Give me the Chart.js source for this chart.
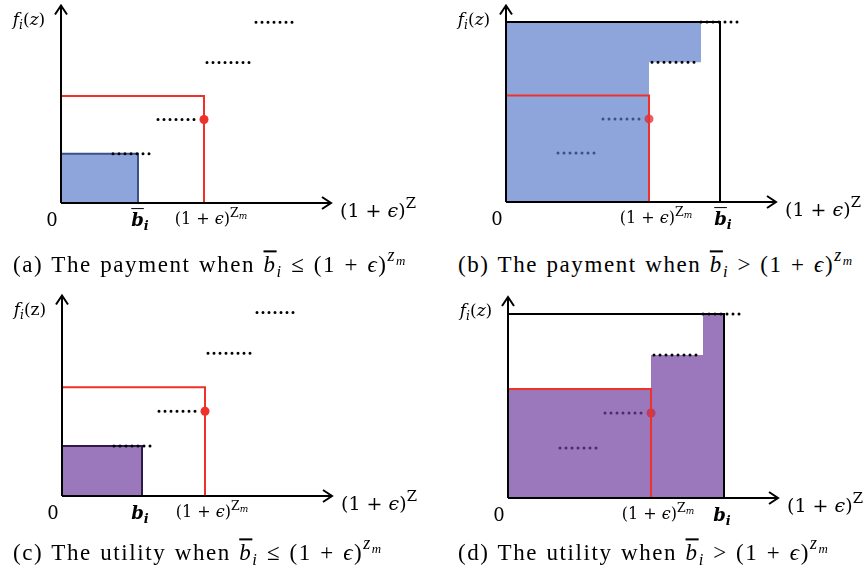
<!DOCTYPE html>
<html>
<head>
<meta charset="utf-8">
<script src="https://cdn.jsdelivr.net/npm/chart.js@4.4.1/dist/chart.umd.min.js"></script>
<style>
  html, body { margin: 0; padding: 0; background: #fff; }
  body { width: 866px; height: 582px; position: relative; overflow: hidden; }
  .panel { position: absolute; width: 433px; height: 240px; }
  .panel canvas { position: absolute; left: 0; top: 0; }
  .lbl { position: absolute; transform: translate(-50%, -50%); white-space: nowrap;
         font-family: "DejaVu Serif", "Liberation Serif", "Noto Serif", "Times New Roman", "FreeSerif", serif;
         font-size: 17px; line-height: 1; color: #000; }
  .cap { position: absolute; transform: translateY(-50%); white-space: nowrap;
         font-family: "Liberation Serif", "DejaVu Serif", "Noto Serif", "Times New Roman", "FreeSerif", serif;
         font-size: 23px; letter-spacing: 1.6px; word-spacing: 1px; line-height: 1; color: #000; }
  .sb { font-size: 72%; vertical-align: -0.3em; }
  .sp { font-size: 78%; vertical-align: 0.6em; }
  .bar { text-decoration: overline; }
</style>
</head>
<body>
<div class="panel" id="pa" style="left:0;top:0"><canvas id="ca" width="433" height="240"></canvas></div>
<div class="panel" id="pb" style="left:433px;top:0"><canvas id="cb" width="433" height="240"></canvas></div>
<div class="panel" id="pc" style="left:0;top:290px"><canvas id="cc" width="433" height="240"></canvas></div>
<div class="panel" id="pd" style="left:433px;top:290px"><canvas id="cd" width="433" height="240"></canvas></div>

<div class="cap" style="left:13px;top:264px">(a) The payment when <i class="bar">b</i><span class="sb"><i>i</i></span> ≤ (1 + <i>ϵ</i>)<span class="sp"><i>z</i><span class="sb"><i>m</i></span></span></div>
<div class="cap" style="left:458px;top:264px">(b) The payment when <i class="bar">b</i><span class="sb"><i>i</i></span> &gt; (1 + <i>ϵ</i>)<span class="sp"><i>z</i><span class="sb"><i>m</i></span></span></div>
<div class="cap" style="left:13px;top:552px">(c) The utility when <i class="bar">b</i><span class="sb"><i>i</i></span> ≤ (1 + <i>ϵ</i>)<span class="sp"><i>z</i><span class="sb"><i>m</i></span></span></div>
<div class="cap" style="left:458px;top:552px">(d) The utility when <i class="bar">b</i><span class="sb"><i>i</i></span> &gt; (1 + <i>ϵ</i>)<span class="sp"><i>z</i><span class="sb"><i>m</i></span></span></div>

<script>
// abstract units: x runs 0..270 along (1+e)^z, y runs 0..202 along f_i(z)
var xMax = 270, yMax = 202;

// the step function f_i(z), drawn as dotted runs
var stepStart = [52, 97, 146, 195];
var stepEnd   = [90, 138, 191, 233];
var stepLevel = [50, 85, 143, 184];

var zm = 143;        // (1+e)^zm
var zmLevel = 109;   // height of the red box
var zmPoint = 85;    // f_i at (1+e)^zm
var topLevel = 184;  // height of the black box
var bidLow = [77, 80];     // b_i in (a) and (c)
var bidHigh = [214, 216];  // b_i in (b) and (d)

var RED = '#EF3229';
var BLUE = '#8EA5DB', BLUE_EDGE = '#3C5088', BLUE_DOT = '#3D4F86';
var PURPLE = '#9B78BC', PURPLE_EDGE = '#2E1B47', PURPLE_DOT = '#4B2C6B';

function line(points, color, width, extra) {
    return Object.assign({
        data: points, borderColor: color, borderWidth: width, pointRadius: 0,
        fill: false, tension: 0, borderJoinStyle: 'miter'
    }, extra || {});
}

function pt(x, y) { return { x: x, y: y }; }

function dottedRows(colors) {
    return stepLevel.map(function (lv, i) {
        return line([pt(stepStart[i], lv), pt(stepEnd[i], lv)], colors[i], 3,
            { borderDash: [0, 6], borderCapStyle: 'round', order: 5 });
    });
}

function redBox(dotColor) {
    return [
        line([pt(0, zmLevel), pt(zm, zmLevel), pt(zm, 0)], RED, 2, { order: 1 }),
        line([pt(zm, zmPoint)], 'rgba(0,0,0,0)', 0, {
            showLine: false, pointRadius: 4.5, pointBackgroundColor: dotColor,
            pointBorderWidth: 0, order: 2
        })
    ];
}

var arrowAxes = {
    id: 'arrowAxes',
    afterDatasetsDraw: function (chart) {
        var ctx = chart.ctx, sx = chart.scales.x, sy = chart.scales.y;
        var x0 = sx.getPixelForValue(0), y0 = sy.getPixelForValue(0);
        var x1 = sx.getPixelForValue(xMax), y1 = sy.getPixelForValue(yMax);
        ctx.save();
        ctx.strokeStyle = '#000';
        ctx.lineWidth = 2;
        ctx.beginPath();
        ctx.moveTo(x0, y0); ctx.lineTo(x1, y0);
        ctx.moveTo(x0, y0); ctx.lineTo(x0, y1 + 1);
        ctx.moveTo(x1 - 9, y0 - 6); ctx.lineTo(x1, y0); ctx.lineTo(x1 - 9, y0 + 6);
        ctx.moveTo(x0 - 6, y1 + 10); ctx.lineTo(x0, y1 + 1); ctx.lineTo(x0 + 6, y1 + 10);
        ctx.stroke();
        ctx.restore();
    }
};

function makeChart(canvasId, origin, datasets) {
    var c = document.getElementById(canvasId);
    return new Chart(c.getContext('2d'), {
        type: 'line',
        data: { datasets: datasets },
        options: {
            responsive: false,
            animation: false,
            events: [],
            layout: { padding: { left: origin[0], right: 433 - origin[0] - xMax, top: origin[1] - yMax, bottom: 240 - origin[1] } },
            scales: {
                x: { type: 'linear', min: 0, max: xMax, display: false },
                y: { type: 'linear', min: 0, max: yMax, display: false }
            },
            plugins: { legend: { display: false }, tooltip: { enabled: false } }
        },
        plugins: [arrowAxes]
    });
}

function addLabel(panelId, chart, html, x, y, dx, dy, size) {
    var d = document.createElement('div');
    d.className = 'lbl';
    d.innerHTML = html;
    if (size) d.style.fontSize = size + 'px';
    d.style.left = (chart.scales.x.getPixelForValue(x) + dx) + 'px';
    d.style.top = (chart.scales.y.getPixelForValue(y) + dy) + 'px';
    document.getElementById(panelId).appendChild(d);
}

var F_ITALIC = '<i>f</i><span class="sb"><i>i</i></span>(<i>z</i>)';
var F_UPRIGHT = '<i>f</i><span class="sb"><i>i</i></span>(z)';
var ZM = '(1 + <i>ϵ</i>)<span class="sp">Z<span class="sb"><i>m</i></span></span>';
var AXIS = '(1 + <i>ϵ</i>)<span class="sp">Z</span>';
var BBAR = '<b><i class="bar">b</i><span class="sb"><i>i</i></span></b>';
var B = '<b><i>b</i><span class="sb"><i>i</i></span></b>';

function labels(panelId, chart, fHtml, bHtml, bx, bdx) {
    addLabel(panelId, chart, fHtml, 0, yMax, -32, 16, 17);
    addLabel(panelId, chart, '0', 0, 0, -9, 17, 18);
    addLabel(panelId, chart, bHtml, bx, 0, bdx, 19, 18);
    addLabel(panelId, chart, ZM, zm, 0, 7, 14, 16);
    addLabel(panelId, chart, AXIS, xMax, 0, 47, 5, 19);
}

// (a) payment, bid below (1+e)^zm
var chartA = makeChart('ca', [61, 203], [
    line([pt(0, stepLevel[0]), pt(bidLow[0], stepLevel[0]), pt(bidLow[0], 0)], BLUE_EDGE, 2,
        { fill: 'origin', backgroundColor: BLUE, order: 10 })
].concat(dottedRows(['#000', '#000', '#000', '#000']), redBox(RED)));
labels('pa', chartA, F_ITALIC, BBAR, bidLow[0], 2);

// (b) payment, bid above (1+e)^zm
var chartB = makeChart('cb', [73, 202], [
    line([pt(0, topLevel), pt(zm, topLevel), pt(zm, 0)], BLUE, 0,
        { fill: 'origin', backgroundColor: BLUE, order: 11 }),
    line([pt(zm - 1, topLevel), pt(stepStart[3], topLevel), pt(stepStart[3], stepLevel[2])], BLUE, 0,
        { fill: { value: stepLevel[2] }, backgroundColor: BLUE, order: 11 }),
    line([pt(0, topLevel), pt(bidHigh[0], topLevel), pt(bidHigh[0], 0)], '#000', 2, { order: 3 })
].concat(dottedRows([BLUE_DOT, BLUE_DOT, '#000', '#000']), redBox('rgba(220,40,50,0.75)')));
labels('pb', chartB, F_ITALIC, BBAR, bidHigh[0], 3);

// (c) utility, bid below (1+e)^zm
var chartC = makeChart('cc', [62, 206], [
    line([pt(0, stepLevel[0]), pt(bidLow[1], stepLevel[0]), pt(bidLow[1], 0)], PURPLE_EDGE, 2,
        { fill: 'origin', backgroundColor: PURPLE, order: 10 })
].concat(dottedRows(['#000', '#000', '#000', '#000']), redBox(RED)));
labels('pc', chartC, F_UPRIGHT, B, bidLow[1], -2);

// (d) utility, bid above (1+e)^zm
var chartD = makeChart('cd', [75, 208], [
    line([pt(0, zmLevel), pt(zm, zmLevel), pt(zm, stepLevel[2]), pt(stepStart[3], stepLevel[2]),
          pt(stepStart[3], topLevel), pt(bidHigh[1], topLevel), pt(bidHigh[1], 0)], PURPLE, 0,
        { fill: 'origin', backgroundColor: PURPLE, order: 11 }),
    line([pt(0, topLevel), pt(bidHigh[1], topLevel), pt(bidHigh[1], 0)], '#000', 2, { order: 3 })
].concat(dottedRows([PURPLE_DOT, PURPLE_DOT, '#000', '#000']), redBox('rgba(200,40,70,0.75)')));
labels('pd', chartD, F_ITALIC, B, bidHigh[1], -2);
</script>
</body>
</html>
